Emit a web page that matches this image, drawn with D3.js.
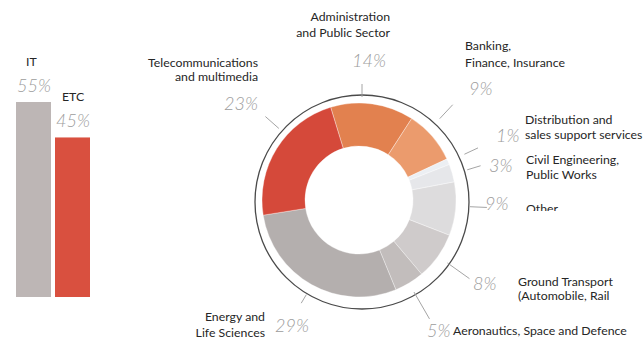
<!DOCTYPE html>
<html>
<head>
<meta charset="utf-8">
<script src="https://cdn.jsdelivr.net/npm/d3@7"></script>
<style>
  html, body { margin: 0; padding: 0; background: #fff; }
  svg { display: block; }
  .cat { font-family: Lato, "Open Sans", sans-serif; font-size: 12.3px; fill: #262626; }
  .pct { font-family: Lato, "DejaVu Sans", sans-serif; font-style: italic; font-weight: 300; font-size: 18px; fill: #9c9c9c; }
  .lead { stroke: #9a9a9a; stroke-width: 0.9; fill: none; }
</style>
</head>
<body>
<svg id="chart" width="644" height="346"></svg>
<script>
// Share of staff: IT vs ETC
const barCategories = ["IT", "ETC"];
const barValues = [55, 45];

// Breakdown by sector (percent)
const sectors = [
  "Administration|and Public Sector",
  "Banking,|Finance, Insurance",
  "Distribution and|sales support services",
  "Civil Engineering,|Public Works",
  "Other",
  "Ground Transport|(Automobile, Rail",
  "Aeronautics, Space and Defence",
  "Energy and|Life Sciences",
  "Telecommunications|and multimedia"
];
const sectorValues = [14, 9, 1, 3, 9, 8, 5, 29, 23];
const sectorColors = ["#e2814f", "#eb9b6d", "#eceff3", "#e6e7ea", "#dddcdd",
                      "#cfcbcb", "#c2bdbc", "#b4afae", "#d5493a"];

const svg = d3.select("#chart");
const deg = Math.PI / 180;

// ---- bar pair ----
const barBase = 297;
const x = d3.scaleBand().domain(barCategories).range([16, 90]).paddingInner(4 / 39);
const y = d3.scaleLinear().domain([0, 55]).range([barBase, 102]);
const barColors = { IT: "#bdb6b5", ETC: "#d9503f" };

const bars = svg.append("g");
bars.selectAll("rect").data(barCategories).join("rect")
  .attr("x", d => x(d))
  .attr("width", x.bandwidth())
  .attr("y", (d, i) => y(barValues[i]))
  .attr("height", (d, i) => barBase - y(barValues[i]))
  .attr("fill", d => barColors[d]);

// category names and percentages above the bars
bars.selectAll("text.cat").data(barCategories).join("text")
  .attr("class", "cat")
  .attr("x", d => x(d) + (d === "IT" ? 10 : 7))
  .attr("y", (d, i) => y(barValues[i]) - 36)
  .text(d => d);
bars.selectAll("text.pct").data(barCategories).join("text")
  .attr("class", "pct")
  .attr("x", d => x(d) + 1)
  .attr("y", (d, i) => y(barValues[i]) - 10)
  .text((d, i) => barValues[i] + "%");

// ---- donut ----
const cx = 359, cy = 200;
const ring = { x: 362, y: 202, r: 107 };
const startA = -17 * deg;
const pie = d3.pie().sort(null).value(d => d).startAngle(startA).endAngle(startA + 2 * Math.PI);
const arc = d3.arc().innerRadius(54).outerRadius(97);
const arcs = pie(sectorValues);

const donut = svg.append("g").attr("transform", `translate(${cx},${cy})`);
donut.selectAll("path").data(arcs).join("path")
  .attr("d", arc)
  .attr("fill", (d, i) => sectorColors[i])
  .attr("stroke", "#ffffff")
  .attr("stroke-opacity", 0.45)
  .attr("stroke-width", 0.8);

// hand-drawn style outer ring
svg.append("circle")
  .attr("cx", ring.x).attr("cy", ring.y).attr("r", ring.r)
  .attr("fill", "none").attr("stroke", "#4a4a4a").attr("stroke-width", 1.3);

// leader lines: [angle in degrees from top, inner radius, outer radius]
const leaders = [[0, 105, 118], [43, 114, 133], [65, 113, 128], [73, 110, 124],
                 [92.5, 108, 125], [125.5, 105, 132], [150, 104, 135], [211, 108, 118],
                 [-48.5, 111, 129]];
const polar = (a, r) => [ring.x + r * Math.sin(a * deg), ring.y - r * Math.cos(a * deg)];
svg.append("g").selectAll("line").data(leaders).join("line")
  .attr("class", "lead")
  .attr("x1", d => polar(d[0], d[1])[0]).attr("y1", d => polar(d[0], d[1])[1])
  .attr("x2", d => polar(d[0], d[2])[0]).attr("y2", d => polar(d[0], d[2])[1]);

// label placement: name anchor, first baseline, line gap, alignment, percent position
const labelLayout = [
  { x: 390, y: 21, lh: 16, anchor: "end", px: 352, py: 67 },
  { x: 465, y: 50, lh: 17, anchor: "start", px: 469, py: 95 },
  { x: 525, y: 124, lh: 15, anchor: "start", px: 496, py: 142 },
  { x: 526, y: 164, lh: 15, anchor: "start", px: 489, py: 172 },
  { x: 526, y: 213, lh: 15, anchor: "start", px: 485, py: 210, clip: 211 },
  { x: 518, y: 286, lh: 14, anchor: "start", px: 473, py: 290 },
  { x: 453, y: 335, lh: 15, anchor: "start", px: 427, py: 337 },
  { x: 265, y: 321, lh: 16, anchor: "end", px: 275, py: 332 },
  { x: 258, y: 67, lh: 14, anchor: "end", px: 224, py: 110 }
];

svg.append("defs").append("clipPath").attr("id", "clipOther")
  .append("rect").attr("x", 500).attr("y", 190).attr("width", 144).attr("height", 21);

const labels = svg.append("g");
sectors.forEach((name, i) => {
  const L = labelLayout[i];
  const t = labels.append("text")
    .attr("class", "cat")
    .attr("text-anchor", L.anchor)
    .attr("x", L.x).attr("y", L.y);
  if (L.clip) t.attr("clip-path", "url(#clipOther)");
  name.split("|").forEach((line, k) => {
    t.append("tspan").attr("x", L.x).attr("dy", k === 0 ? 0 : L.lh).text(line);
  });
  labels.append("text")
    .attr("class", "pct")
    .attr("x", L.px).attr("y", L.py)
    .text(sectorValues[i] + "%");
});
</script>
</body>
</html>
